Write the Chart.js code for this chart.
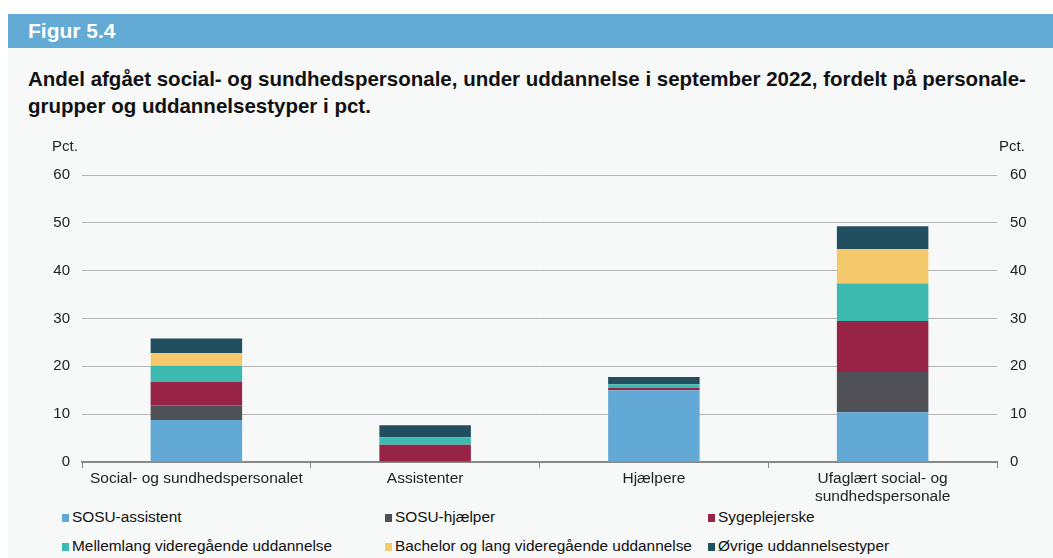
<!DOCTYPE html>
<html>
<head>
<meta charset="utf-8">
<script src="https://cdn.jsdelivr.net/npm/chart.js@4/dist/chart.umd.min.js"></script>
<style>
  html, body { margin: 0; padding: 0; background: #fff; }
  body { width: 1053px; height: 558px; position: relative; overflow: hidden;
         font-family: "Liberation Sans", Arial, sans-serif; }
  #band { position: absolute; left: 8px; top: 14px; width: 1045px; height: 34px; background: #63aad5; }
  #band span { position: absolute; left: 20px; top: 5px; color: #fff; font-weight: bold; font-size: 21px; }
  #panel { position: absolute; left: 8px; top: 48px; width: 1045px; height: 510px; background: #f7f8f8; }
  #title { position: absolute; left: 28px; top: 65px; width: 1020px; font-weight: bold; font-size: 20.5px;
           line-height: 27px; color: #111; }
  #wrap { position: absolute; left: 8px; top: 135px; width: 1045px; height: 370px; }
  #legend { position: absolute; left: 0; top: 506px; width: 1053px; height: 52px; font-size: 15.4px; color: #111; }
  .item { position: absolute; white-space: nowrap; }
  .item i { display: inline-block; width: 7px; height: 8px; margin-right: 3px; vertical-align: 0px; }
</style>
</head>
<body>
<div id="band"><span>Figur 5.4</span></div>
<div id="panel"></div>
<div id="title">Andel afgået social- og sundhedspersonale, under uddannelse i september 2022, fordelt på personale-<br>grupper og uddannelsestyper i pct.</div>
<div id="wrap"><canvas id="chart"></canvas></div>
<div id="legend"></div>
<script>
// categories and series (pct.)
const categories = [
  "Social- og sundhedspersonalet",
  "Assistenter",
  "Hjælpere",
  ["Ufaglært social- og", "sundhedspersonale"]
];
const seriesNames = [
  "SOSU-assistent",
  "SOSU-hjælper",
  "Sygeplejerske",
  "Mellemlang videregående uddannelse",
  "Bachelor og lang videregående uddannelse",
  "Øvrige uddannelsestyper"
];
const sosuAssistent = [8.8, 0, 15.0, 10.4];
const sosuHjaelper = [3.0, 0, 0, 8.4];
const sygeplejerske = [5.0, 3.6, 0.45, 10.7];
const mellemlang = [3.3, 1.55, 0.8, 7.8];
const bachelorLang = [2.7, 0, 0, 7.2];
const oevrige = [3.0, 2.55, 1.5, 4.8];
const yTicks = [0, 10, 20, 30, 40, 50, 60];

const colors = ["#63a9d5", "#4f5157", "#972447", "#3dbab0", "#f3c96c", "#214f5f"];
const values = [sosuAssistent, sosuHjaelper, sygeplejerske, mellemlang, bachelorLang, oevrige];

const datasets = seriesNames.map((name, i) => ({
  label: name,
  data: values[i],
  backgroundColor: colors[i],
  borderWidth: 0,
  barPercentage: 0.8,
  categoryPercentage: 0.5
}));

// "Pct." labels above both value axes
const pctLabels = {
  id: "pctLabels",
  afterDraw(chart) {
    const ctx = chart.ctx;
    ctx.save();
    ctx.font = "15px 'Liberation Sans', Arial, sans-serif";
    ctx.fillStyle = "#222";
    ctx.textBaseline = "middle";
    ctx.textAlign = "left";
    ctx.fillText("Pct.", 44, 12);
    ctx.fillText("Pct.", 991, 12);
    ctx.restore();
  }
};

const xFont = { family: "'Liberation Sans', Arial, sans-serif", size: 15.5 };
const yFont = { family: "'Liberation Sans', Arial, sans-serif", size: 15 };

new Chart(document.getElementById("chart"), {
  type: "bar",
  data: { labels: categories, datasets: datasets },
  options: {
    responsive: true,
    maintainAspectRatio: false,
    animation: false,
    layout: { padding: { top: 40, right: 0, bottom: 0, left: 0 } },
    plugins: { legend: { display: false }, tooltip: { enabled: false } },
    scales: {
      x: {
        stacked: true,
        grid: { offset: true, drawOnChartArea: false, drawTicks: true, tickLength: 6, color: "#888", lineWidth: 1 },
        border: { color: "#888", width: 2 },
        ticks: { color: "#222", font: xFont, maxRotation: 0, padding: 1 },
        afterFit(scale) { scale.height = 43; }
      },
      y: {
        stacked: true,
        position: "left",
        min: 0, max: 60,
        afterBuildTicks(scale) { scale.ticks = yTicks.map(v => ({ value: v })); },
        grid: { color: "#b5b5b5", lineWidth: 1, drawTicks: false },
        border: { display: false },
        ticks: { color: "#222", font: yFont, padding: 12 },
        afterFit(scale) { scale.width = 74; }
      },
      y2: {
        position: "right",
        min: 0, max: 60,
        afterBuildTicks(scale) { scale.ticks = yTicks.map(v => ({ value: v })); },
        grid: { drawOnChartArea: false, drawTicks: false },
        border: { display: false },
        ticks: { color: "#222", font: yFont, padding: 13 },
        afterFit(scale) { scale.width = 56; }
      }
    }
  },
  plugins: [pctLabels]
});

// legend in three fixed columns
const legend = document.getElementById("legend");
const colX = [62, 385, 708];
const rowY = [2, 31];
seriesNames.forEach((name, i) => {
  const d = document.createElement("div");
  d.className = "item";
  d.style.left = colX[i % 3] + "px";
  d.style.top = rowY[Math.floor(i / 3)] + "px";
  d.innerHTML = '<i style="background:' + colors[i] + '"></i>' + name;
  legend.appendChild(d);
});
</script>
</body>
</html>
